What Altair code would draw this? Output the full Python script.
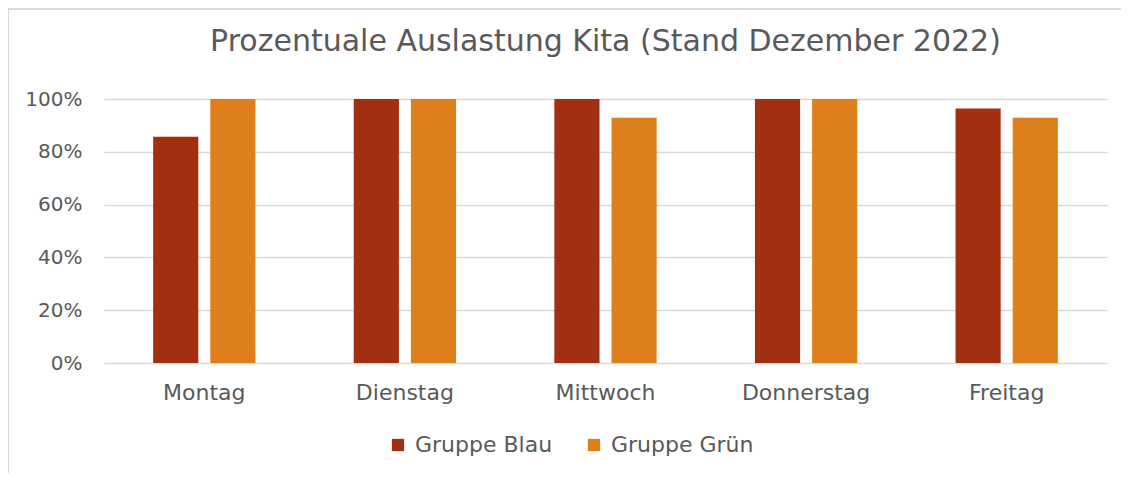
import altair as alt
import pandas as pd

days = ["Montag", "Dienstag", "Mittwoch", "Donnerstag", "Freitag"]
gruppe_blau = [0.857, 1.0, 1.0, 1.0, 0.964]
gruppe_gruen = [1.0, 1.0, 0.929, 1.0, 0.929]
series = ["Gruppe Blau", "Gruppe Grün"]
colors = ["#A22F10", "#DF7F1B"]

rows = []
for i, d in enumerate(days):
    rows.append({"Tag": d, "Gruppe": series[0], "Wert": gruppe_blau[i]})
    rows.append({"Tag": d, "Gruppe": series[1], "Wert": gruppe_gruen[i]})
df = pd.DataFrame(rows)

W, H = 1003, 264
FONT = "DejaVu Sans"
GRAY = "#595959"

bars = alt.Chart(df).mark_bar().encode(
    x=alt.X("Tag:N", sort=days, title=None,
            scale=alt.Scale(paddingInner=0.49, paddingOuter=0.245),
            axis=alt.Axis(labelAngle=0, labelFontSize=22, labelColor=GRAY,
                          labelFont=FONT, labelPadding=19, ticks=False,
                          domain=False, grid=False)),
    xOffset=alt.XOffset("Gruppe:N", sort=series,
                        scale=alt.Scale(paddingInner=0.21, paddingOuter=0)),
    y=alt.Y("Wert:Q", title=None,
            scale=alt.Scale(domain=[0, 1], nice=False),
            axis=alt.Axis(format=".0%", values=[0, 0.2, 0.4, 0.6, 0.8, 1.0],
                          labelFontSize=20, labelColor=GRAY, labelFont=FONT,
                          labelPadding=22, ticks=False, domain=False,
                          grid=True, gridColor="#D9D9D9", gridWidth=1.5)),
    color=alt.Color("Gruppe:N", sort=series,
                    scale=alt.Scale(domain=series, range=colors),
                    legend=alt.Legend(title=None, orient="none", direction="horizontal",
                                      legendX=283, legendY=335,
                                      symbolType="square", symbolSize=150,
                                      symbolStrokeWidth=0,
                                      labelFontSize=22, labelColor=GRAY, labelFont=FONT,
                                      columnPadding=30, labelOffset=6)),
)

frame = alt.Chart(pd.DataFrame({"a": [0]})).mark_rect(
    fill=None, stroke="#D9D9D9", strokeWidth=2
).encode(
    x=alt.value(-96), x2=alt.value(W + 200),
    y=alt.value(-90), y2=alt.value(H + 300),
)

chart = alt.layer(frame, bars).properties(
    width=W, height=H,
    title=alt.Title("Prozentuale Auslastung Kita (Stand Dezember 2022)",
                    fontSize=30, font=FONT, fontWeight="normal", color=GRAY,
                    anchor="middle", offset=-49),
    autosize=alt.AutoSizeParams(type="none"),
    padding={"left": 96, "top": 91, "right": 14, "bottom": 110},
).configure_view(stroke=None)

chart.save("out.html", embed_options={"renderer": "svg", "actions": False})
